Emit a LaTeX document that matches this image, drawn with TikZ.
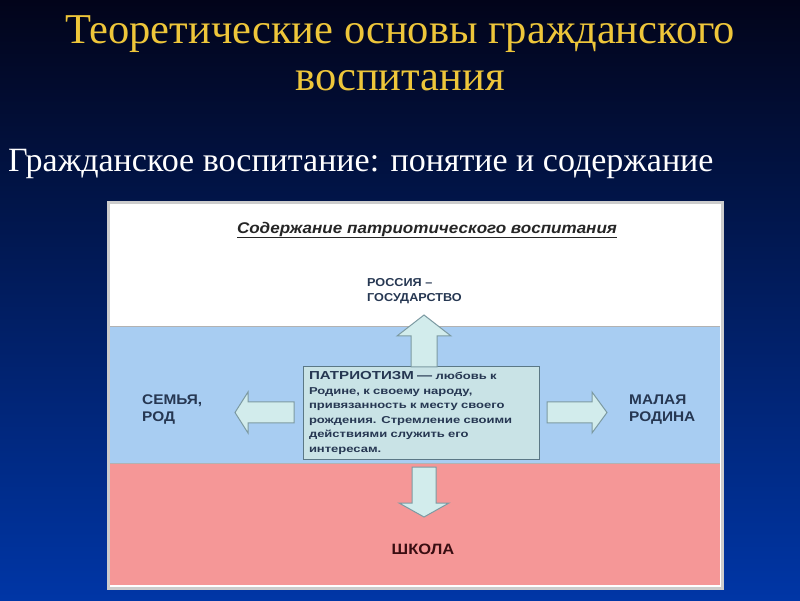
\documentclass[tikz,border=0pt]{standalone}
\usepackage{fontspec}
\setmainfont{Liberation Serif}
\setsansfont{Liberation Sans}
\newfontfamily\panelfont[FakeStretch=1.1]{Liberation Sans}
\newfontfamily\boxfont[FakeStretch=1.3]{Liberation Sans}
\usepackage{tikz}
\usetikzlibrary{positioning}
\definecolor{titlegold}{HTML}{EEC63A}
\definecolor{bgtop}{HTML}{02041A}
\definecolor{bgmid}{HTML}{0A2A88}
\definecolor{bgbottom}{HTML}{0036A6}
\definecolor{bandblue}{HTML}{A8CDF2}
\definecolor{bandpink}{HTML}{F59797}
\definecolor{arrowfill}{HTML}{D2ECEC}
\definecolor{arrowline}{HTML}{7C9AA2}
\definecolor{boxfill}{HTML}{C9E3E6}
\definecolor{boxline}{HTML}{5B7886}
\definecolor{labelink}{HTML}{263752}
\definecolor{schoolink}{HTML}{3A0E12}
\tikzset{
  blockarrow/.style={draw=arrowline,fill=arrowfill,line width=1pt,line join=miter},
  placelabel/.style={font=\panelfont\bfseries\fontsize{14}{17}\selectfont,text=labelink,align=left,inner sep=0pt},
}

\begin{document}
\begin{tikzpicture}[scale=1.000000,x=1pt,y=1pt]
\useasboundingbox (0,0) rectangle (800,600);
% Drawing background
\shade[top color=bgtop,middle color=bgmid,bottom color=bgbottom] (0,0) rectangle (800,600);
% Drawing titles
\node[text=titlegold,font=\fontsize{42.5}{46}\selectfont] (title1) at (400,566) {Теоретические основы гражданского};
\node[text=titlegold,font=\fontsize{42.5}{46}\selectfont] (title2) at (400,519) {воспитания};
\node[text=white,font=\fontsize{34}{38}\selectfont,anchor=west,inner sep=0pt] (subtitle) at (8,436) {Гражданское воспитание: понятие и содержание};
% Drawing panel and bands
\draw[color=black!20,line width=3pt,fill=white] (108,12) rectangle (722,397);
\fill[color=white] (110,273) rectangle (720,393);
\fill[color=bandblue] (110,137) rectangle (720,273);
\fill[color=bandpink] (110,15) rectangle (720,137);
\draw[color=black!30,line width=1pt] (110,273) -- (720,273);
\draw[color=black!30,line width=1pt] (110,137) -- (720,137);
% Done with bands; drawing nodes
\node[font=\panelfont\bfseries\itshape\fontsize{15.5}{18}\selectfont,text=black!85] (heading) at (427,370) {\underline{Содержание патриотического воспитания}};
\node[placelabel,font=\panelfont\bfseries\fontsize{11.5}{15}\selectfont,anchor=north west] (russia) at (367,322) {РОССИЯ –\\ГОСУДАРСТВО};
\node[placelabel,anchor=west] (family) at (142,190) {СЕМЬЯ,\\РОД};
\node[placelabel,anchor=west] (homeland) at (629,190) {МАЛАЯ\\РОДИНА};
\node[font=\panelfont\bfseries\fontsize{15}{18}\selectfont,text=schoolink] (school) at (423,51) {ШКОЛА};
\node[draw=boxline,fill=boxfill,line width=1pt,minimum width=236pt,minimum height=92pt,inner xsep=6pt,inner ysep=2pt,
      font=\boxfont\bfseries\fontsize{10}{14.6}\selectfont,text=labelink,align=left,text width=224pt] (patriotism) at (421,187)
  {{\fontsize{11.6}{14.6}\selectfont ПАТРИОТИЗМ —} любовь к\\Родине, к своему народу,\\привязанность к месту своего\\рождения. Стремление своими\\действиями служить его\\интересам.};
% Done with nodes; drawing block arrows
% Arrow 1: up to РОССИЯ
\draw[blockarrow] (411,233) -- (411,264) -- (397,264) -- (424,285) -- (451,264) -- (437,264) -- (437,233) -- cycle;
% Arrow 2: left to СЕМЬЯ
\draw[blockarrow] (294,198) -- (248,198) -- (248,208) -- (235,187.5) -- (248,167) -- (248,177) -- (294,177) -- cycle;
% Arrow 3: right to МАЛАЯ РОДИНА
\draw[blockarrow] (547,198) -- (592,198) -- (592,208) -- (607,187.5) -- (592,167) -- (592,177) -- (547,177) -- cycle;
% Arrow 4: down to ШКОЛА
\draw[blockarrow] (412,133) -- (412,97) -- (399,97) -- (424,83) -- (449,97) -- (436,97) -- (436,133) -- cycle;
% Done with arrows
\end{tikzpicture}
\end{document}
